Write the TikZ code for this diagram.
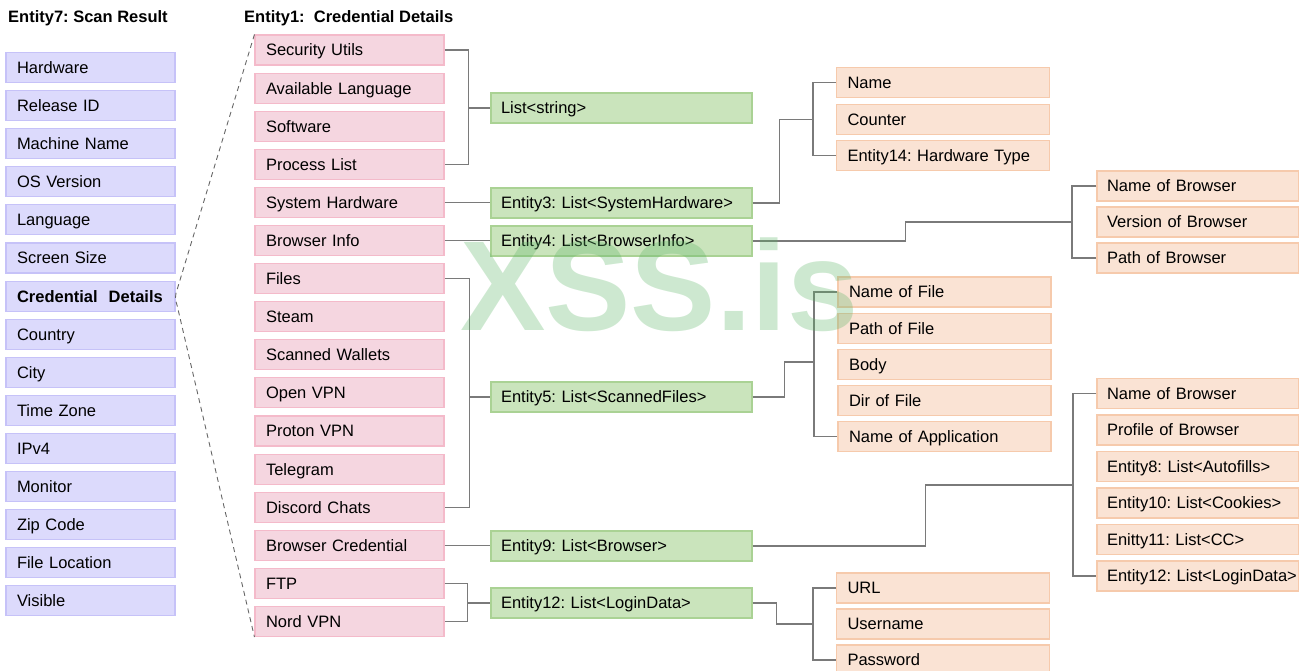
\documentclass[tikz,border=0pt]{standalone}
\usepackage{fontspec}
\setmainfont{Liberation Sans}
\usepackage{tikz}
\definecolor{color1}{RGB}{220,218,252}
\definecolor{color2}{RGB}{245,214,224}
\definecolor{color3}{RGB}{202,228,188}
\definecolor{color4}{RGB}{250,227,212}
\definecolor{line1}{RGB}{198,194,248}
\definecolor{line2}{RGB}{244,186,202}
\definecolor{line3}{RGB}{170,210,148}
\definecolor{line4}{RGB}{246,202,172}
\definecolor{markgreen}{RGB}{90,180,100}
\colorlet{wire}{black!52}

\begin{document}
\frenchspacing
\begin{tikzpicture}[x=1pt, y=-1pt,
		every node/.style={font=\fontsize{16.5}{19}\selectfont},
		box/.style={draw, line width=1.1pt, minimum height=30pt, inner xsep=11pt, inner ysep=0pt, align=left, text height=11.8pt, text depth=0pt},
		scanbox/.style={box, fill=color1, draw=line1, text width=147pt},
		credbox/.style={box, fill=color2, draw=line2, text width=167pt},
		listbox/.style={box, fill=color3, draw=line3, text width=241pt, inner xsep=10pt},
		fieldbox/.style={box, fill=color4, draw=line4, text width=191pt},
		wbox/.style={box, fill=color4, draw=line4, text width=182pt, inner xsep=10pt},
		link/.style={draw=wire, line width=1.3pt},
		title/.style={anchor=west, inner sep=0pt, font=\fontsize{16.5}{19}\selectfont\bfseries}]
	\useasboundingbox (0,0) rectangle (1299,670);

	\node[title] (t7) at (8,18) {Entity7: Scan Result};
	\node[title] (t1) at (244,18) {Entity1:\ \ Credential Details};

	% Entity7
	\foreach \t [count=\i] in {Hardware, Release ID, Machine Name, OS Version, Language, Screen Size, {\textbf{Credential\ \ Details}}, Country, City, Time Zone, IPv4, Monitor, Zip Code, File Location, Visible}
		\node[scanbox] (s\i) at (90.5, {67.5+38.1*(\i-1)}) {\t};

	% Entity1
	\foreach \n/\t [count=\i from 0] in {secutils/Security Utils, avlang/Available Language, software/Software, proclist/Process List, syshw/System Hardware, brinfo/Browser Info, files/Files, steam/Steam, wallets/Scanned Wallets, openvpn/Open VPN, protonvpn/Proton VPN, telegram/Telegram, discord/Discord Chats, brcred/Browser Credential, ftp/FTP, nordvpn/Nord VPN}
		\node[credbox] (\n) at (349.5, {50+38.1*\i}) {\t};

	\draw[dashed, dash pattern=on 5pt off 4pt, draw=black!60, line width=0.9pt]
		(secutils.north west) -- (177,290) .. controls (175,295) and (175,300) .. (177,305) -- (nordvpn.south west);

	% lists
	\node[listbox] (lstr) at (621.5,108) {List<string>};
	\node[listbox] (e3) at (621.5,203) {Entity3: List<SystemHardware>};
	\node[listbox] (e4) at (621.5,241) {Entity4: List<BrowserInfo>};
	\node[listbox] (e5) at (621.5,397) {Entity5: List<ScannedFiles>};
	\node[listbox] (e9) at (621.5,546) {Entity9: List<Browser>};
	\node[listbox] (e12) at (621.5,603) {Entity12: List<LoginData>};

	% fields
	\foreach \t [count=\i] in {Name, Counter, Entity14: Hardware Type}
		\node[fieldbox] (hw\i) at (943, {82.7+36.5*(\i-1)}) {\t};
	\foreach \t [count=\i] in {Name of File, Path of File, Body, Dir of File, Name of Application}
		\node[fieldbox] (fi\i) at (944.5, {292+36.1*(\i-1)}) {\t};
	\foreach \t [count=\i] in {URL, Username, Password}
		\node[fieldbox] (ld\i) at (943, {588+36*(\i-1)}) {\t};
	\foreach \t [count=\i] in {Name of Browser, Version of Browser, Path of Browser}
		\node[wbox] (bi\i) at (1198, {186+36*(\i-1)}) {\mbox{\t}};
	\foreach \t [count=\i] in {Name of Browser, Profile of Browser, Entity8: List<Autofills>, Entity10: List<Cookies>, Enitty11: List<CC>, Entity12: List<LoginData>}
		\node[wbox] (bc\i) at (1198, {393.5+36.5*(\i-1)}) {\mbox{\t}};

	% left wiring
	\draw[link] (secutils.east) -- ++(24,0) coordinate (j1) |- (proclist.east);
	\draw[link] (j1 |- lstr.west) -- (lstr.west);
	\draw[link] (syshw.east) -- (syshw.east -| e3.west);
	\draw[link] (brinfo.east) -- (brinfo.east -| e4.west);
	\draw[link] (files.east) -- ++(25,0) coordinate (j2) |- (discord.east);
	\draw[link] (j2 |- e5.west) -- (e5.west);
	\draw[link] (brcred.east) -- (brcred.east -| e9.west);
	\draw[link] (ftp.east) -- ++(23,0) coordinate (j3) |- (nordvpn.east);
	\draw[link] (j3 |- e12.west) -- (e12.west);

	% right wiring
	\coordinate (b3) at (813,119.5);
	\coordinate (b4) at (1072,222);
	\coordinate (b5) at (814,362);
	\coordinate (b9) at (1073,485);
	\coordinate (b12) at (813,624);
	\draw[link] (e3.east) -- ++(27,0) |- (b3);
	\draw[link] (hw1.west) -| (b3) |- (hw3.west);
	\draw[link] (e4.east) -- ++(153,0) |- (b4);
	\draw[link] (bi1.west) -| (b4) |- (bi3.west);
	\draw[link] (e5.east) -- ++(32,0) |- (b5);
	\draw[link] (fi1.west) -| (b5) |- (fi5.west);
	\draw[link] (e9.east) -- ++(173,0) |- (b9);
	\draw[link] (bc1.west) -| (b9) |- (bc6.west);
	\draw[link] (e12.east) -- ++(24,0) |- (b12);
	\draw[link] (ld1.west) -| (b12) |- (ld3.west);

	\node[anchor=base west, inner sep=0pt, text=markgreen, opacity=0.3, font=\fontsize{128}{128}\selectfont\bfseries] (mark) at (460,330) {XSS.is};
\end{tikzpicture}
\end{document}
